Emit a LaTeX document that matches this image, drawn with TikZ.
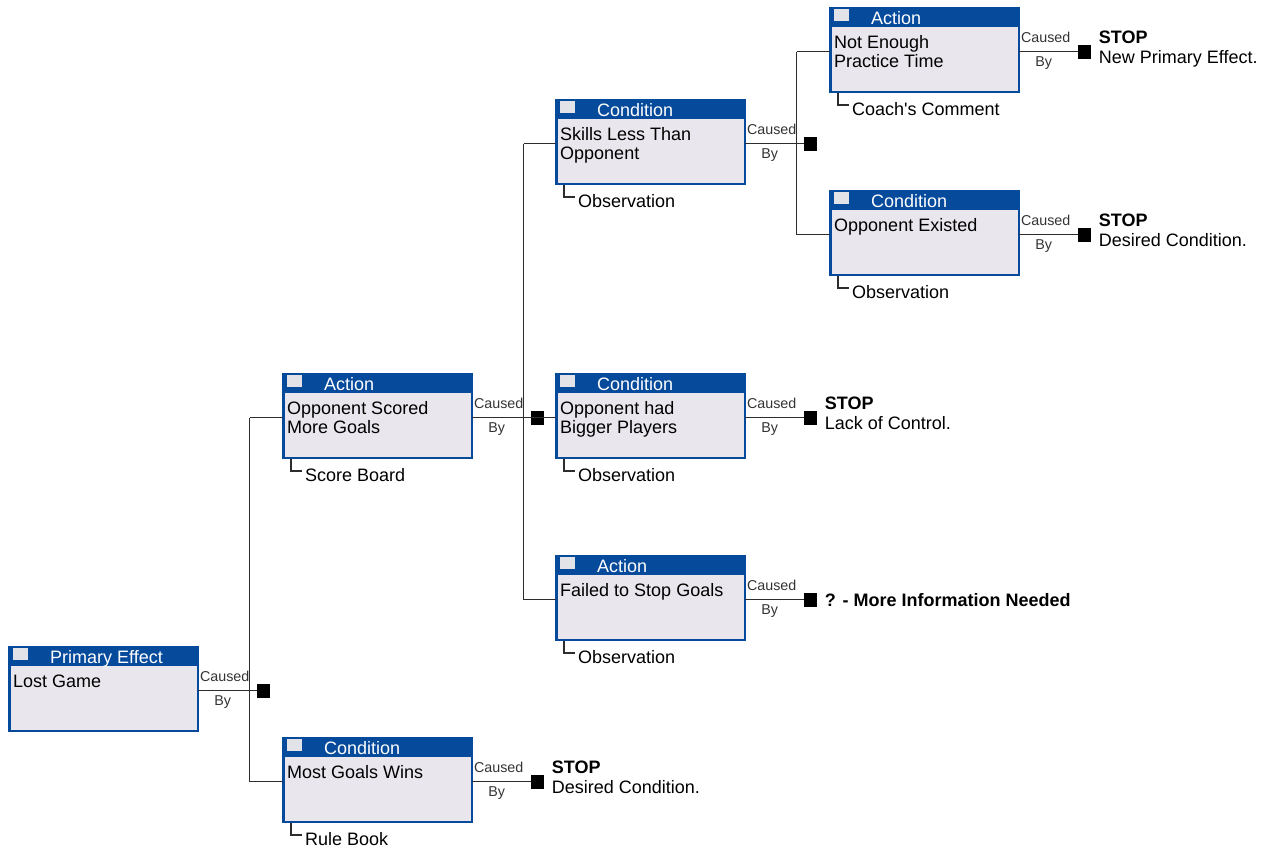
\documentclass[tikz,border=0pt]{standalone}
\usepackage{fontspec}
\setmainfont{Liberation Sans}
\definecolor{hdrblue}{RGB}{6,74,156}
\definecolor{bodyfill}{RGB}{233,231,237}
\definecolor{chipc}{RGB}{226,226,233}
\definecolor{linec}{RGB}{45,45,45}
\tikzset{
 cbox/.style={draw=hdrblue,line width=2.5pt,fill=bodyfill,minimum width=188.5pt,minimum height=83.5pt,anchor=north west,inner sep=0pt,outer sep=0pt},
 hdrtxt/.style={anchor=base west,inner sep=0pt,text=white,font=\fontsize{18}{20}\selectfont},
 bodytxt/.style={anchor=base west,inner sep=0pt,font=\fontsize{18}{20}\selectfont},
 evtxt/.style={anchor=base west,inner sep=0pt,font=\fontsize{18}{20}\selectfont},
 cbtxt/.style={anchor=base,inner sep=0pt,text=black!80,font=\fontsize{14.3}{16}\selectfont},
 junc/.style={fill=black,minimum width=13pt,minimum height=14pt,inner sep=0pt,outer sep=0pt},
 conn/.style={draw=linec,line width=1.2pt},
 stoptxt/.style={anchor=base west,inner sep=0pt,font=\fontsize{18}{20}\selectfont},
}
% name, x, y, type, body lines
\newcommand\cbox[5]{%
 \coordinate (#1o) at (#2,-#3);
 \node[cbox] (#1) at ([xshift=1.25pt,yshift=-1.25pt]#1o) {};
 \coordinate (#1L) at ([yshift=-1.5pt]#1.west);
 \coordinate (#1R) at ([yshift=-1.5pt]#1.east);
 \fill[hdrblue] (#1o) rectangle ([xshift=191pt,yshift=-20pt]#1o);
 \fill[chipc] ([xshift=5pt,yshift=-2pt]#1o) rectangle ([xshift=20pt,yshift=-14pt]#1o);
 \node[hdrtxt] (#1h) at ([xshift=42pt,yshift=-17.5pt]#1o) {#4};
 \node[bodytxt] (#1b) at ([xshift=5pt,yshift=-41pt]#1o) {\vtop{\baselineskip=19.5pt #5}};
}
\newcommand\evid[2]{%
 \node[evtxt] (#1e) at ([xshift=23pt,yshift=-108pt]#1o) {#2};
 \draw[conn] ([xshift=9pt,yshift=-86pt]#1o) |- ([xshift=-3pt,yshift=10pt]#1e.base west);
}
\newcommand\causedby[2]{%
 \node[junc] (#2) at ([xshift=65.5pt]#1R) {};
 \draw[conn] (#1R) -- (#2);
 \node[cbtxt] (#2c) at ([xshift=27pt,yshift=9pt]#1R) {Caused};
 \node[cbtxt] (#2y) at ([xshift=25pt,yshift=-15pt]#1R) {By};
 \coordinate (#2v) at ([xshift=51.75pt]#1R);
}
\newcommand\stopnote[2]{%
 \node[stoptxt] (#1t) at ([xshift=8pt,yshift=8.5pt]#1.east) {\vtop{\baselineskip=20.5pt\hbox{\bfseries STOP}\hbox{#2}}};
}
\newcommand\branch[2]{\draw[conn] (#1v |- #2L) -- (#2L);}
\begin{document}
\begin{tikzpicture}[x=1pt,y=1pt]
\useasboundingbox (0,0) rectangle (1268,-849);
% boxes
\cbox{pe}{8}{646}{Primary Effect}{\hbox{Lost Game}}
\cbox{os}{282}{373}{Action}{\hbox{Opponent Scored}\hbox{More Goals}}
\evid{os}{Score Board}
\cbox{mg}{282}{737}{Condition}{\hbox{Most Goals Wins}}
\evid{mg}{Rule Book}
\cbox{sk}{555}{99}{Condition}{\hbox{Skills Less Than}\hbox{Opponent}}
\evid{sk}{Observation}
\cbox{bp}{555}{373}{Condition}{\hbox{Opponent had}\hbox{Bigger Players}}
\evid{bp}{Observation}
\cbox{fs}{555}{555}{Action}{\hbox{Failed to Stop Goals}}
\evid{fs}{Observation}
\cbox{ne}{829}{7}{Action}{\hbox{Not Enough}\hbox{Practice Time}}
\evid{ne}{Coach\textquotesingle s Comment}
\cbox{oe}{829}{190}{Condition}{\hbox{Opponent Existed}}
\evid{oe}{Observation}
% caused-by junctions
\causedby{pe}{s1}
\draw[conn] (s1v |- osL) -- (s1v |- mgL);
\branch{s1}{os}
\branch{s1}{mg}
\causedby{os}{s2}
\draw[conn] (s2v |- skL) -- (s2v |- fsL);
\branch{s2}{sk}
\branch{s2}{bp}
\branch{s2}{fs}
\causedby{sk}{s3}
\draw[conn] (s3v |- neL) -- (s3v |- oeL);
\branch{s3}{ne}
\branch{s3}{oe}
\causedby{mg}{s4}
\stopnote{s4}{Desired Condition.}
\causedby{bp}{s5}
\stopnote{s5}{Lack of Control.}
\causedby{fs}{s6}
\node[stoptxt,font=\fontsize{18}{20}\selectfont\bfseries] (s6t) at ([xshift=8pt,yshift=-7pt]s6.east) {? - More Information Needed};
\causedby{ne}{s7}
\stopnote{s7}{New Primary Effect.}
\causedby{oe}{s8}
\stopnote{s8}{Desired Condition.}
\end{tikzpicture}
\end{document}
